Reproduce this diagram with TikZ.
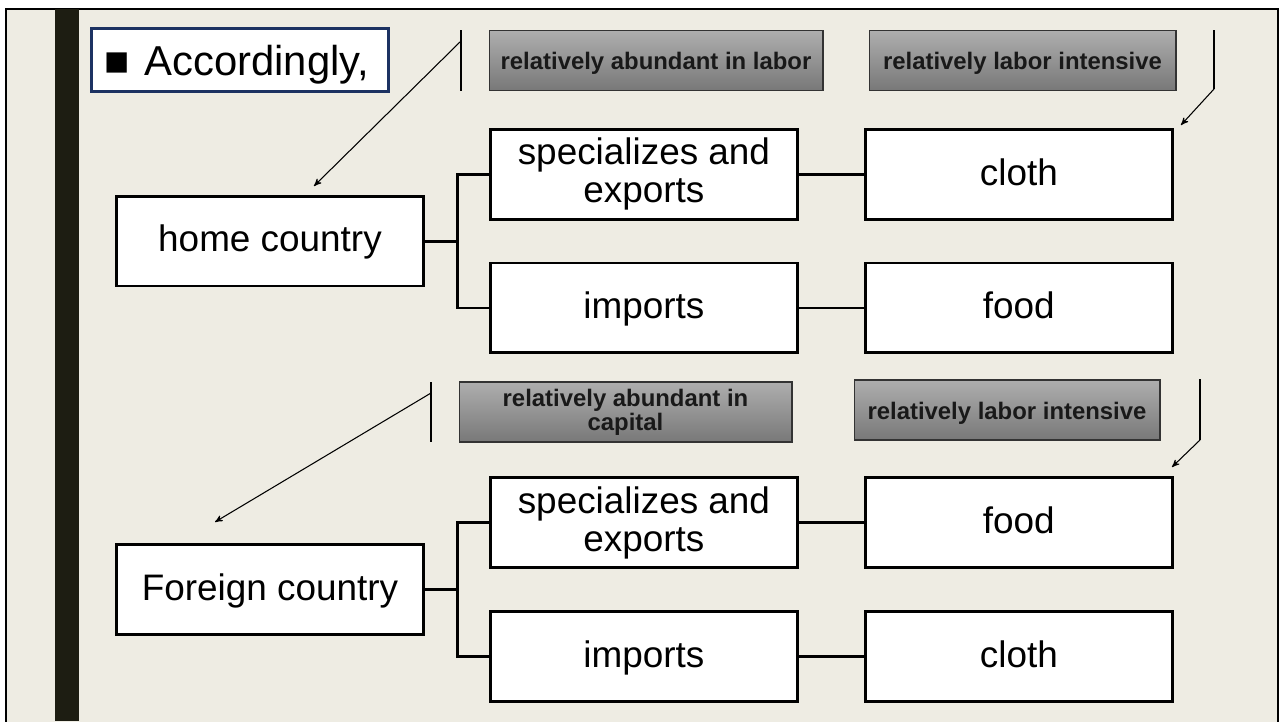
\documentclass[tikz,border=0pt]{standalone}
\usepackage{fontspec}
\setmainfont{Liberation Sans}
\usetikzlibrary{arrows}
\definecolor{slideBg}{RGB}{238,236,227}
\definecolor{barDark}{RGB}{29,29,18}
\definecolor{navyLine}{RGB}{28,50,98}
\definecolor{tagTop}{RGB}{174,174,174}
\definecolor{tagBottom}{RGB}{120,120,120}
\tikzset{
  boxnode/.style = {align=center, inner sep=0pt, text centered},
  WhiteBox/.style = {boxnode, rectangle, draw = black, fill = white, line width = 1.7pt, minimum width = 6.14cm, minimum height = 1.8cm, font = \fontsize{21}{21.6}\selectfont},
  OneLine/.style = {WhiteBox, text height = 17.8pt, text depth = 5.3pt},
  GrayTag/.style = {boxnode, rectangle, draw = black!80, line width = 0.6pt, top color = tagTop, bottom color = tagBottom, text = black!90, minimum height = 1.2cm, font = \bfseries\fontsize{13.6}{12.5}\selectfont},
  TagLine/.style = {GrayTag, text height = 13.5pt, text depth = 2.9pt},
  NoteBox/.style = {rectangle, draw = navyLine, fill = white, line width = 1.7pt, inner xsep = 0.26cm, inner ysep = 0pt, text width = 5.44cm, minimum height = 1.26cm, align = left, text height = 23.1pt, text depth = 5pt, font = \fontsize{23.8}{24}\selectfont},
  TagBar/.style = {line width = 1pt},
  Pointer/.style = {->, line width = 0.6pt}
}
\begin{document}
\begin{tikzpicture}[x=0.02cm, y=-0.02cm, >=stealth', grow'=right,
    edge from parent/.style={draw, line width=1.7pt},
    level 1/.style={sibling distance = 2.68cm, level distance = 7.48cm,
            edge from parent path={(\tikzparentnode.east) -- ++(33,0) |- (\tikzchildnode.west)}},
    level 2/.style={level distance = 7.5cm}]
    \useasboundingbox (0,0) rectangle (1287,721);
    % slide
    \fill [white] (0,0) rectangle (1287,721);
    \draw [line width=1.2pt, fill=slideBg] (6,9) rectangle (1278,740);
    \fill [barDark] (55,9) rectangle (79,721);
    \node [NoteBox] (note) at (240,60) {■\hspace{0.36em}Accordingly,};
    % home country
    \node [TagLine, minimum width = 6.68cm] (homeLand) at (656,60.5) {relatively abundant in labor};
    \node [TagLine, minimum width = 6.14cm] (homeGood) at (1022.5,60.5) {relatively labor intensive};
    \coordinate (homeLandTop) at (461,30);
    \coordinate (homeLandBot) at (461,91);
    \coordinate (homeLandFrom) at (461,41);
    \coordinate (homeLandTip) at (314,186);
    \coordinate (homeGoodTop) at (1214,30);
    \coordinate (homeGoodBot) at (1214,89);
    \coordinate (homeGoodTip) at (1181,125);
    \draw [TagBar] (homeLandTop) -- (homeLandBot);
    \draw [TagBar] (homeGoodTop) -- (homeGoodBot);
    \draw [Pointer] (homeLandFrom) -- (homeLandTip);
    \draw [Pointer] (homeGoodBot) -- (homeGoodTip);
    \node [OneLine] (home) at (270,241) {home country}
        child{ node [WhiteBox] (homeExp) {specializes and\\exports}
            child{ node [OneLine] (homeCloth) {cloth}}
        }
        child{ node [OneLine] (homeImp) {imports}
            child{ node [OneLine] (homeFood) {food}}
        }
    ;
    % foreign country
    \node [GrayTag, minimum width = 6.66cm] (forLand) at (625.5,412) {relatively abundant in\\capital};
    \node [TagLine, minimum width = 6.12cm] (forGood) at (1007,410) {relatively labor intensive};
    \coordinate (forLandTop) at (431,382);
    \coordinate (forLandBot) at (431,442);
    \coordinate (forLandFrom) at (431,393);
    \coordinate (forLandTip) at (215,522);
    \coordinate (forGoodTop) at (1200,379);
    \coordinate (forGoodBot) at (1200,440);
    \coordinate (forGoodTip) at (1172,467);
    \draw [TagBar] (forLandTop) -- (forLandBot);
    \draw [TagBar] (forGoodTop) -- (forGoodBot);
    \draw [Pointer] (forLandFrom) -- (forLandTip);
    \draw [Pointer] (forGoodBot) -- (forGoodTip);
    \node [OneLine] (foreign) at (270,589.5) {Foreign country}
        child{ node [WhiteBox] (forExp) {specializes and\\exports}
            child{ node [OneLine] (forFood) {food}}
        }
        child{ node [OneLine] (forImp) {imports}
            child{ node [OneLine] (forCloth) {cloth}}
        }
    ;
\end{tikzpicture}
\end{document}
